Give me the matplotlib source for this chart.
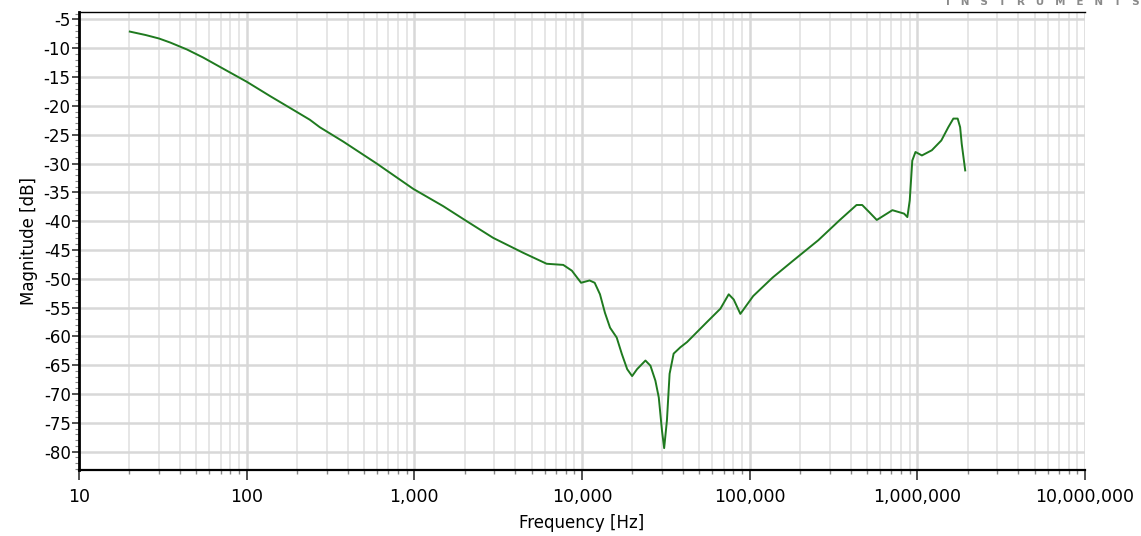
import matplotlib
matplotlib.use("Agg")
import matplotlib.pyplot as plt
from matplotlib.ticker import FixedLocator, FuncFormatter, LogLocator, MultipleLocator, NullFormatter

plt.rcParams['font.family'] = ['DejaVu Sans']
plt.rcParams['axes.unicode_minus'] = False

# Frequency response data
freq_hz = [20.1, 25, 30, 35, 44, 55, 70, 100, 138, 190, 238, 273, 377, 596, 985,
           1486, 2050, 2950, 4460, 6150, 7730, 8700, 9870, 11100, 11900, 12800,
           13700, 14700, 16100, 17300, 18600, 19900, 21300, 23900, 25600, 27400,
           28700, 30000, 30900, 32100, 33300, 35200, 38600, 42300, 55700, 66900,
           75000, 80300, 88000, 105000, 137000, 181000, 257000, 345000, 434000,
           469000, 515000, 573000, 710000, 834000, 872000, 901000, 933000, 975000,
           1065000, 1220000, 1390000, 1530000, 1640000, 1740000, 1800000, 1840000,
           1930000]
magnitude_db = [-7.1, -7.7, -8.3, -9.0, -10.2, -11.6, -13.3, -15.8, -18.3, -20.7,
                -22.4, -23.7, -26.2, -30.0, -34.4, -37.4, -40.0, -42.9, -45.5, -47.4,
                -47.6, -48.6, -50.7, -50.3, -50.7, -52.7, -55.9, -58.5, -60.2, -63.1,
                -65.7, -66.9, -65.7, -64.2, -65.1, -67.7, -70.6, -76.4, -79.4, -74.6,
                -66.5, -63.0, -61.9, -61.0, -57.5, -55.2, -52.7, -53.6, -56.1, -53.0,
                -49.8, -46.9, -43.3, -39.8, -37.2, -37.2, -38.4, -39.8, -38.1, -38.7,
                -39.3, -36.4, -29.5, -28.0, -28.6, -27.7, -26.0, -23.7, -22.2, -22.2,
                -23.7, -26.6, -31.2]

x_ticks = [10, 100, 1000, 10000, 100000, 1000000, 10000000]
y_ticks = [-5, -10, -15, -20, -25, -30, -35, -40, -45, -50, -55, -60, -65, -70, -75, -80]

fig = plt.figure(figsize=(11.41, 5.36), dpi=100)
ax = fig.add_axes([79 / 1141, 1 - 470 / 536, (1085 - 79) / 1141, (470 - 12) / 536])

ax.plot(freq_hz, magnitude_db, color='#1f7a1f', linewidth=1.4)

ax.set_xscale('log')
ax.set_xlim(10, 1e7)
ax.set_ylim(-83.2, -3.7)

ax.xaxis.set_major_locator(FixedLocator(x_ticks))
ax.xaxis.set_minor_locator(LogLocator(base=10, subs=range(2, 10), numticks=20))
ax.xaxis.set_major_formatter(FuncFormatter(lambda v, p: f"{int(round(v)):,}"))
ax.xaxis.set_minor_formatter(NullFormatter())
ax.yaxis.set_major_locator(FixedLocator(y_ticks))
ax.yaxis.set_minor_locator(MultipleLocator(1))
ax.yaxis.set_major_formatter(FuncFormatter(lambda v, p: f"{int(v)}"))

ax.grid(True, which='major', color='#d8d8d8', linewidth=1.8)
ax.grid(True, which='minor', axis='x', color='#e2e2e2', linewidth=1.2)
ax.set_axisbelow(True)

ax.spines['right'].set_visible(False)
ax.spines['top'].set_linestyle((0, (1, 1)))
ax.spines['top'].set_linewidth(1.0)
ax.spines['left'].set_linewidth(2.0)
ax.spines['bottom'].set_linewidth(1.6)

ax.tick_params(axis='x', which='major', length=7, width=1.2, labelsize=12.5, pad=6, color='#333333')
ax.tick_params(axis='x', which='minor', length=3, width=1.0, color='#888888')
ax.tick_params(axis='y', which='major', length=5, width=1.2, labelsize=12, pad=1, color='#333333')
ax.tick_params(axis='y', which='minor', length=3, width=0.8, color='#888888')

ax.set_xlabel('Frequency [Hz]', fontsize=12, labelpad=6)
ax.set_ylabel('Magnitude [dB]', fontsize=12, labelpad=4)

fig.text((952 + 1133) / 2 / 1141, 0.997, 'I   N   S   T   R   U   M   E   N   T   S',
         ha='center', va='center', fontsize=7.5, color='#8a8a8a', fontweight='bold')

fig.savefig('out.png', dpi=100)
